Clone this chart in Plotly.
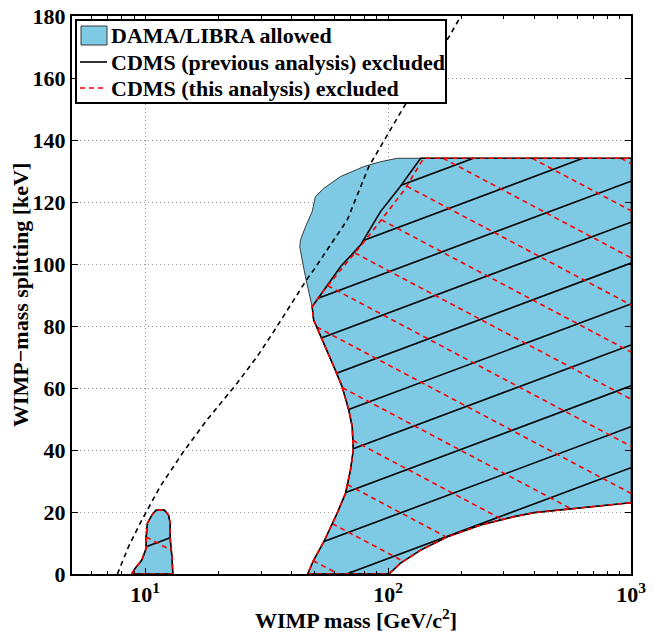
import math
import numpy as np
import plotly.graph_objects as go

# ---------------- data ----------------
# DAMA/LIBRA large allowed region, split into boundary pieces
lower_edge_mass = [46.7, 49.4, 54.4, 61.7, 66.8, 70.0, 71.9, 71.2, 68.9, 64.7, 59.8, 54.4, 49.4, 48.7]
lower_edge_split = [0.0, 4.5, 10.4, 19.6, 26.0, 33.5, 40.0, 47.5, 52.9, 60.4, 66.9, 74.4, 81.9, 86.2]

upper_left_mass = [47.2, 45.7, 44.3, 43.3, 43.6, 45.7, 48.7, 50.2, 54.4, 63.7, 79.3, 93.1, 109.2]
upper_left_split = [90.5, 95.9, 101.3, 105.6, 107.7, 112.0, 116.9, 121.7, 124.4, 128.2, 131.4, 133.0, 134.1]

top_right_mass = [1000.0]
top_right_split = [134.1]

bottom_edge_mass = [1000.0, 425.6, 399.4, 330.2, 240.7, 175.5, 136.2, 112.6, 100.8]
bottom_edge_split = [23.0, 20.1, 19.8, 18.5, 15.8, 12.0, 7.7, 3.5, 0.0]

# DAMA/LIBRA small allowed island (~10 GeV)
island_mass = [8.81, 9.09, 9.69, 10.10, 10.10, 10.22, 10.66, 11.10, 12.01, 12.48, 12.68, 12.68, 12.89, 13.01]
island_split = [0.0, 1.8, 4.5, 8.3, 12.0, 16.4, 19.0, 20.6, 20.6, 19.0, 16.4, 11.5, 5.6, 0.0]

# CDMS exclusion edges inside the large region
prev_edge_mass = [48.7, 54.4, 63.7, 77.0, 93.1, 110.8, 136.2]
prev_edge_split = [86.2, 91.6, 99.1, 106.1, 116.9, 124.4, 134.1]
this_edge_mass = [48.7, 52.5, 64.5, 77.5, 95.0, 117.0, 140.0]
this_edge_split = [86.2, 90.0, 98.5, 106.0, 114.8, 124.0, 134.1]

# dashed black curve
curve_mass = [7.69, 8.54, 9.54, 10.32, 11.53, 14.39, 17.97, 23.89, 28.88, 33.82, 40.89,
              46.1, 49.44, 67.9, 83.3, 94.7, 116.2, 178.2, 199.5]
curve_split = [0.0, 8.8, 16.4, 21.2, 28.2, 39.5, 49.7, 61.5, 70.1, 78.2, 88.4,
               94.8, 98.1, 114.2, 131.4, 138.9, 150.7, 173.3, 180.0]

x_tick_vals = [10, 100, 1000]
x_tick_text = ["10<sup>1</sup>", "10<sup>2</sup>", "10<sup>3</sup>"]
x_minor_vals = [6, 7, 8, 9, 20, 30, 40, 50, 60, 70, 80, 90, 200, 300, 400, 500, 600, 700, 800, 900]
y_tick_vals = list(range(0, 181, 20))

x_title = "WIMP mass [GeV/c<sup>2</sup>]"
y_title = "WIMP−mass splitting [keV]"
legend_labels = ["DAMA/LIBRA allowed",
                 "CDMS (previous analysis) excluded",
                 "CDMS (this analysis) excluded"]

# ---------------- styles ----------------
BLUE = "rgb(126,201,228)"
OUTLINE = "#3a3a3a"
FONT = "Liberation Serif"
FS = 22
DASH = "5px,4px"
# hatch: slope (keV per decade), spacing (keV), phase (keV at 10^3 GeV)
HATCH_PREV = dict(slope=29.3, spacing=13.2, phase=34.3)
HATCH_THIS = dict(slope=-41.5, spacing=15.2, phase=26.0)
HATCH_PREV_ISL = dict(slope=29.3, spacing=13.2, phase=67.3)
HATCH_THIS_ISL = dict(slope=-41.5, spacing=15.2, phase=-70.9)

# plot-area geometry in page pixels (used only to place the legend box)
PL, PR, PT, PB = 72, 631, 16, 574


def px_x(p):
    return (p - PL) / (PR - PL)


def px_y(p):
    return (PB - p) / (PB - PT)


# ---------------- polygons ----------------
dama_mass = lower_edge_mass + upper_left_mass + top_right_mass + bottom_edge_mass
dama_split = lower_edge_split + upper_left_split + top_right_split + bottom_edge_split
prev_mass = lower_edge_mass[:-1] + prev_edge_mass + top_right_mass + bottom_edge_mass
prev_split = lower_edge_split[:-1] + prev_edge_split + top_right_split + bottom_edge_split
this_mass = lower_edge_mass[:-1] + this_edge_mass + top_right_mass + bottom_edge_mass
this_split = lower_edge_split[:-1] + this_edge_split + top_right_split + bottom_edge_split

# outlines without the segment lying on the right frame
prev_out_mass = bottom_edge_mass + lower_edge_mass[:-1] + prev_edge_mass + top_right_mass
prev_out_split = bottom_edge_split + lower_edge_split[:-1] + prev_edge_split + top_right_split
this_out_mass = bottom_edge_mass + lower_edge_mass[:-1] + this_edge_mass + top_right_mass
this_out_split = bottom_edge_split + lower_edge_split[:-1] + this_edge_split + top_right_split


def closed(xs, ys):
    return list(xs) + [xs[0]], list(ys) + [ys[0]]


def hatch(mass, split, slope, spacing, phase):
    u = np.log10(np.array(mass, float))
    y = np.array(split, float)
    r = y - slope * (u - 3.0)
    n = len(u)
    kmin = math.floor((r.min() - phase) / spacing) - 1
    kmax = math.ceil((r.max() - phase) / spacing) + 1
    xs, ys = [], []
    for k in range(kmin, kmax + 1):
        c = phase + k * spacing
        hits = []
        for i in range(n):
            j = (i + 1) % n
            a, b = r[i] - c, r[j] - c
            if (a < 0) != (b < 0):
                t = a / (a - b)
                hits.append(u[i] + t * (u[j] - u[i]))
        hits.sort()
        for m in range(0, len(hits) - 1, 2):
            ua, ub = hits[m], hits[m + 1]
            xs += [10 ** ua, 10 ** ub, None]
            ys += [c + slope * (ua - 3.0), c + slope * (ub - 3.0), None]
    return xs, ys


fig = go.Figure()

# DAMA fills
dx, dy = closed(dama_mass, dama_split)
fig.add_trace(go.Scatter(x=dx, y=dy, mode="lines", fill="toself", fillcolor=BLUE,
                         line=dict(color=OUTLINE, width=1), name=legend_labels[0]))
ix, iy = closed(island_mass, island_split)
fig.add_trace(go.Scatter(x=ix, y=iy, mode="lines", fill="toself", fillcolor=BLUE,
                         line=dict(color=OUTLINE, width=1), name=legend_labels[0]))

# hatching
hx1, hy1 = hatch(prev_mass, prev_split, **HATCH_PREV)
hx2, hy2 = hatch(island_mass, island_split, **HATCH_PREV_ISL)
fig.add_trace(go.Scatter(x=hx1 + hx2, y=hy1 + hy2, mode="lines",
                         line=dict(color="black", width=1.6), name=legend_labels[1]))
rx1, ry1 = hatch(this_mass, this_split, **HATCH_THIS)
rx2, ry2 = hatch(island_mass, island_split, **HATCH_THIS_ISL)
fig.add_trace(go.Scatter(x=rx1 + rx2, y=ry1 + ry2, mode="lines",
                         line=dict(color="red", width=1.6, dash=DASH), name=legend_labels[2]))

# outlines
fig.add_trace(go.Scatter(x=prev_out_mass + [None] + ix, y=prev_out_split + [None] + iy,
                         mode="lines", line=dict(color="black", width=1.6),
                         name=legend_labels[1]))
fig.add_trace(go.Scatter(x=this_out_mass + [None] + ix, y=this_out_split + [None] + iy,
                         mode="lines", line=dict(color="red", width=1.6, dash=DASH),
                         name=legend_labels[2]))

# dashed curve
fig.add_trace(go.Scatter(x=curve_mass, y=curve_split, mode="lines",
                         line=dict(color="black", width=1.6, dash=DASH), showlegend=False))

# ---------------- legend (drawn as box + samples + text) ----------------
LB = dict(x0=76, x1=446, y0=20, y1=103)
rows_y = [35.5, 62, 88]
shapes = [
    dict(type="rect", xref="paper", yref="paper", layer="above",
         x0=px_x(LB["x0"]), x1=px_x(LB["x1"]), y0=px_y(LB["y1"]), y1=px_y(LB["y0"]),
         fillcolor="white", line=dict(color="black", width=2)),
    dict(type="rect", xref="paper", yref="paper", layer="above",
         x0=px_x(81), x1=px_x(107), y0=px_y(rows_y[0] + 9.5), y1=px_y(rows_y[0] - 9.5),
         fillcolor=BLUE, line=dict(color=OUTLINE, width=1)),
    dict(type="line", xref="paper", yref="paper", layer="above",
         x0=px_x(80), x1=px_x(107), y0=px_y(rows_y[1]), y1=px_y(rows_y[1]),
         line=dict(color="black", width=1.6)),
    dict(type="line", xref="paper", yref="paper", layer="above",
         x0=px_x(80), x1=px_x(107), y0=px_y(rows_y[2]), y1=px_y(rows_y[2]),
         line=dict(color="red", width=1.6, dash=DASH)),
]
legend_ann = [dict(text=lab, xref="paper", yref="paper", x=px_x(109), y=px_y(ry),
                   xanchor="left", yanchor="middle", showarrow=False,
                   font=dict(family=FONT, size=FS, color="black", weight="bold"))
              for lab, ry in zip(legend_labels, rows_y)]

axis_common = dict(showline=True, linecolor="black", linewidth=2, mirror="ticks",
                   ticks="inside", tickcolor="black", tickwidth=1, zeroline=False,
                   automargin=False, ticklabeloverflow="allow",
                   showgrid=True, gridcolor="#9a9a9a", griddash="1px,3px", gridwidth=1,
                   tickfont=dict(family=FONT, size=FS, color="black", weight="bold"))

fig.update_layout(
    width=659, height=635,
    margin=dict(l=PL, r=659 - PR, t=PT, b=635 - PB),
    paper_bgcolor="white", plot_bgcolor="white",
    font=dict(family=FONT, size=FS, color="black", weight="bold"),
    hovermode=False,
    xaxis=dict(type="log", range=[math.log10(5), 3], tickmode="array",
               tickvals=x_tick_vals, ticktext=x_tick_text, ticklen=6,
               minor=dict(tickmode="array", tickvals=x_minor_vals, ticks="inside",
                          ticklen=3, tickcolor="black", showgrid=False),
               **axis_common),
    yaxis=dict(range=[0, 180], tickmode="array", tickvals=y_tick_vals, ticklen=6,
               **axis_common),
    showlegend=False,
    shapes=shapes,
    annotations=[
        dict(text=x_title, xref="paper", yref="paper", x=0.5, y=0, xanchor="center",
             yanchor="middle", yshift=-45, xshift=4, showarrow=False,
             font=dict(family=FONT, size=FS, color="black", weight="bold")),
        dict(text=y_title, xref="paper", yref="paper", x=0, y=0.5, xanchor="center",
             yanchor="middle", xshift=-52, textangle=-90, showarrow=False,
             font=dict(family=FONT, size=FS, color="black", weight="bold")),
    ] + legend_ann,
)

# remove the default page margin so the figure sits at the page origin
fig.write_html("out.html", config={"displayModeBar": False, "staticPlot": True},
               post_script="document.body.style.margin='0';document.body.style.overflow='hidden';")
